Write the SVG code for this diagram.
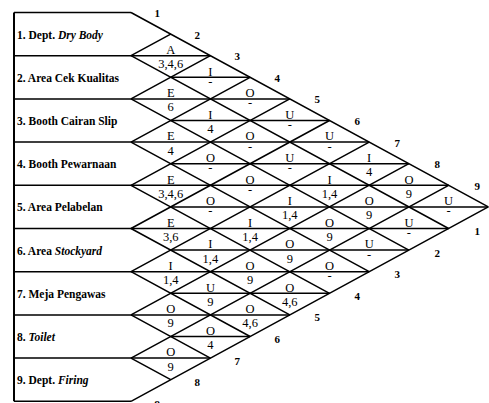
<svg xmlns="http://www.w3.org/2000/svg" width="489" height="403" viewBox="0 0 489 403">
<style>
.ln{stroke:#000;stroke-width:1.5;fill:none;stroke-linecap:butt}
.lb{font-family:"Liberation Serif","Times New Roman",serif;font-weight:bold;font-size:11.5px;fill:#000}
.it{font-style:italic}
.nm{font-family:"Liberation Serif","Times New Roman",serif;font-weight:bold;font-size:11px;fill:#000;text-anchor:middle}
.t{font-family:"Liberation Serif","Times New Roman",serif;font-size:12.5px;fill:#000;text-anchor:middle}
.d{font-family:"Liberation Serif","Times New Roman",serif;font-size:12.5px;fill:#000;text-anchor:middle}
</style>
<rect width="489" height="403" fill="#fff"/>
<g id="connectors">
<path class="ln" style="stroke-width:2" d="M14,12.5V401.3"/>
<path class="ln" d="M14,12.5H131 M14,55.7H210.4 M170.7,77.3H250.1 M14,98.9H289.8 M170.7,120.5H329.5 M14,142.1H369.2 M170.7,163.7H408.9 M14,185.3H448.6 M170.7,206.9H488.3 M14,228.5H448.6 M170.7,250.1H408.9 M14,271.7H369.2 M170.7,293.3H329.5 M14,314.9H289.8 M170.7,336.5H250.1 M14,358.1H210.4 M14,401.3H131"/>
<path class="ln" d="M131,12.5L488.3,206.9 M131,55.7L448.6,228.5 M131,98.9L408.9,250.1 M131,142.1L369.2,271.7 M131,185.3L329.5,293.3 M131,228.5L289.8,314.9 M131,271.7L250.1,336.5 M131,314.9L210.4,358.1 M131,358.1L170.7,379.7"/>
<path class="ln" d="M131,55.7L170.7,34.1 M131,98.9L210.4,55.7 M131,142.1L250.1,77.3 M131,185.3L289.8,98.9 M131,228.5L329.5,120.5 M131,271.7L369.2,142.1 M131,314.9L408.9,163.7 M131,358.1L448.6,185.3 M131,401.3L488.3,206.9"/>
</g>
<g id="n1"><text class="lb" x="17" y="38.5">1. Dept. <tspan class="it">Dry Body</tspan></text></g>
<g id="n2"><text class="lb" x="17" y="81.7">2. Area Cek Kualitas</text></g>
<g id="n3"><text class="lb" x="17" y="125">3. Booth Cairan Slip</text></g>
<g id="n4"><text class="lb" x="17" y="168">4. Booth Pewarnaan</text></g>
<g id="n5"><text class="lb" x="17" y="211.3">5. Area Pelabelan</text></g>
<g id="n6"><text class="lb" x="17" y="254.5">6. Area <tspan class="it">Stockyard</tspan></text></g>
<g id="n7"><text class="lb" x="17" y="297.7">7. Meja Pengawas</text></g>
<g id="n8"><text class="lb" x="17" y="341">8. <tspan class="it">Toilet</tspan></text></g>
<g id="n9"><text class="lb" x="17" y="384">9. Dept. <tspan class="it">Firing</tspan></text></g>
<g id="top-numbers">
<text class="nm" x="157.3" y="17">1</text>
<text class="nm" x="197.3" y="38.6">2</text>
<text class="nm" x="237.3" y="60.2">3</text>
<text class="nm" x="277.3" y="81.8">4</text>
<text class="nm" x="317.3" y="103.4">5</text>
<text class="nm" x="357.3" y="125">6</text>
<text class="nm" x="397.3" y="146.6">7</text>
<text class="nm" x="437.3" y="168.2">8</text>
<text class="nm" x="477.3" y="189.8">9</text>
</g>
<g id="bottom-numbers">
<text class="nm" x="477.3" y="235">1</text>
<text class="nm" x="437.3" y="256.6">2</text>
<text class="nm" x="397.3" y="278.2">3</text>
<text class="nm" x="357.3" y="299.8">4</text>
<text class="nm" x="317.3" y="321.4">5</text>
<text class="nm" x="277.3" y="343">6</text>
<text class="nm" x="237.3" y="364.6">7</text>
<text class="nm" x="197.3" y="386.2">8</text>
<text class="nm" x="157.3" y="407.8">9</text>
</g>
<g id="relations">
<g id="r1-2"><text class="t" x="170.7" y="53.9">A</text><text class="t" x="170.7" y="68.2">3,4,6</text></g>
<g id="r1-3"><text class="t" x="210.4" y="75.5">I</text><text class="d" x="210.4" y="85.8">-</text></g>
<g id="r2-3"><text class="t" x="170.7" y="97.1">E</text><text class="t" x="170.7" y="111.4">6</text></g>
<g id="r1-4"><text class="t" x="250.1" y="97.1">O</text><text class="d" x="250.1" y="107.4">-</text></g>
<g id="r2-4"><text class="t" x="210.4" y="118.7">I</text><text class="t" x="210.4" y="133">4</text></g>
<g id="r1-5"><text class="t" x="289.8" y="118.7">U</text><text class="d" x="289.8" y="129">-</text></g>
<g id="r3-4"><text class="t" x="170.7" y="140.3">E</text><text class="t" x="170.7" y="154.6">4</text></g>
<g id="r2-5"><text class="t" x="250.1" y="140.3">O</text><text class="d" x="250.1" y="150.6">-</text></g>
<g id="r1-6"><text class="t" x="329.5" y="140.3">U</text><text class="d" x="329.5" y="150.6">-</text></g>
<g id="r3-5"><text class="t" x="210.4" y="161.9">O</text><text class="d" x="210.4" y="172.2">-</text></g>
<g id="r2-6"><text class="t" x="289.8" y="161.9">U</text><text class="d" x="289.8" y="172.2">-</text></g>
<g id="r1-7"><text class="t" x="369.2" y="161.9">I</text><text class="t" x="369.2" y="176.2">4</text></g>
<g id="r4-5"><text class="t" x="170.7" y="183.5">E</text><text class="t" x="170.7" y="197.8">3,4,6</text></g>
<g id="r3-6"><text class="t" x="250.1" y="183.5">O</text><text class="d" x="250.1" y="193.8">-</text></g>
<g id="r2-7"><text class="t" x="329.5" y="183.5">I</text><text class="t" x="329.5" y="197.8">1,4</text></g>
<g id="r1-8"><text class="t" x="408.9" y="183.5">O</text><text class="t" x="408.9" y="197.8">9</text></g>
<g id="r4-6"><text class="t" x="210.4" y="205.1">O</text><text class="d" x="210.4" y="215.4">-</text></g>
<g id="r3-7"><text class="t" x="289.8" y="205.1">I</text><text class="t" x="289.8" y="219.4">1,4</text></g>
<g id="r2-8"><text class="t" x="369.2" y="205.1">O</text><text class="t" x="369.2" y="219.4">9</text></g>
<g id="r1-9"><text class="t" x="448.6" y="205.1">U</text><text class="d" x="448.6" y="215.4">-</text></g>
<g id="r5-6"><text class="t" x="170.7" y="226.7">E</text><text class="t" x="170.7" y="241">3,6</text></g>
<g id="r4-7"><text class="t" x="250.1" y="226.7">I</text><text class="t" x="250.1" y="241">1,4</text></g>
<g id="r3-8"><text class="t" x="329.5" y="226.7">O</text><text class="t" x="329.5" y="241">9</text></g>
<g id="r2-9"><text class="t" x="408.9" y="226.7">U</text><text class="d" x="408.9" y="237">-</text></g>
<g id="r5-7"><text class="t" x="210.4" y="248.3">I</text><text class="t" x="210.4" y="262.6">1,4</text></g>
<g id="r4-8"><text class="t" x="289.8" y="248.3">O</text><text class="t" x="289.8" y="262.6">9</text></g>
<g id="r3-9"><text class="t" x="369.2" y="248.3">U</text><text class="d" x="369.2" y="258.6">-</text></g>
<g id="r6-7"><text class="t" x="170.7" y="269.9">I</text><text class="t" x="170.7" y="284.2">1,4</text></g>
<g id="r5-8"><text class="t" x="250.1" y="269.9">O</text><text class="t" x="250.1" y="284.2">9</text></g>
<g id="r4-9"><text class="t" x="329.5" y="269.9">O</text><text class="d" x="329.5" y="280.2">-</text></g>
<g id="r6-8"><text class="t" x="210.4" y="291.5">U</text><text class="t" x="210.4" y="305.8">9</text></g>
<g id="r5-9"><text class="t" x="289.8" y="291.5">O</text><text class="t" x="289.8" y="305.8">4,6</text></g>
<g id="r7-8"><text class="t" x="170.7" y="313.1">O</text><text class="t" x="170.7" y="327.4">9</text></g>
<g id="r6-9"><text class="t" x="250.1" y="313.1">O</text><text class="t" x="250.1" y="327.4">4,6</text></g>
<g id="r7-9"><text class="t" x="210.4" y="334.7">O</text><text class="t" x="210.4" y="349">4</text></g>
<g id="r8-9"><text class="t" x="170.7" y="356.3">O</text><text class="t" x="170.7" y="370.6">9</text></g>
</g>
</svg>
